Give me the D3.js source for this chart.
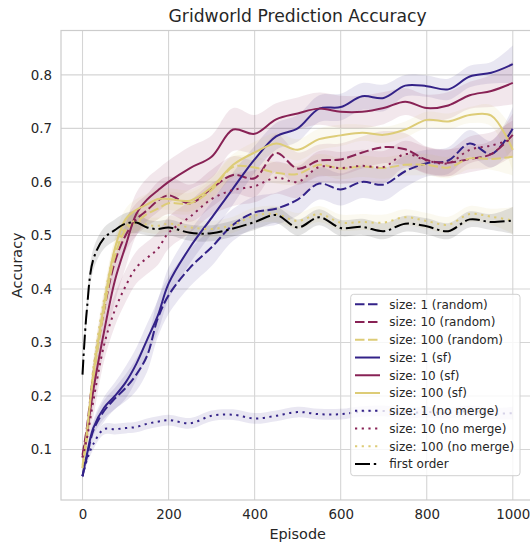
<!DOCTYPE html>
<html>
<head>
<meta charset="utf-8">
<script src="https://cdn.jsdelivr.net/npm/d3@7"></script>
<style>
  body { margin: 0; background: #fff; }
  text { font-family: "DejaVu Sans", sans-serif; fill: #262626; }
</style>
</head>
<body>
<div class="chart"></div>
<script>
// Gridworld prediction accuracy
var episodes = [0, 10, 25, 50, 75, 100, 125, 150, 175, 200, 250, 300, 350, 400, 450, 500, 550, 600, 650, 700, 750, 800, 850, 900, 950, 1000];

var size1Random   = [0.05, 0.085, 0.135, 0.172, 0.195, 0.215, 0.24, 0.275, 0.345, 0.388, 0.44, 0.478, 0.52, 0.543, 0.55, 0.567, 0.597, 0.586, 0.60, 0.595, 0.62, 0.635, 0.64, 0.672, 0.652, 0.70];
var size10Random  = [0.09, 0.14, 0.24, 0.36, 0.45, 0.50, 0.53, 0.547, 0.565, 0.575, 0.56, 0.588, 0.613, 0.607, 0.654, 0.625, 0.64, 0.642, 0.655, 0.665, 0.661, 0.641, 0.636, 0.643, 0.652, 0.688];
var size100Random = [0.065, 0.12, 0.23, 0.36, 0.46, 0.51, 0.525, 0.54, 0.55, 0.56, 0.56, 0.585, 0.628, 0.627, 0.617, 0.615, 0.632, 0.625, 0.629, 0.626, 0.632, 0.632, 0.627, 0.644, 0.643, 0.647];
var size1Sf       = [0.05, 0.09, 0.14, 0.178, 0.20, 0.225, 0.26, 0.305, 0.35, 0.41, 0.478, 0.533, 0.588, 0.642, 0.685, 0.70, 0.737, 0.74, 0.76, 0.757, 0.78, 0.779, 0.773, 0.797, 0.804, 0.82];
var size10Sf      = [0.085, 0.13, 0.21, 0.32, 0.415, 0.48, 0.54, 0.567, 0.584, 0.60, 0.626, 0.647, 0.698, 0.69, 0.717, 0.728, 0.737, 0.731, 0.731, 0.738, 0.75, 0.738, 0.743, 0.762, 0.77, 0.785];
var size100Sf     = [0.07, 0.13, 0.24, 0.37, 0.475, 0.53, 0.548, 0.558, 0.568, 0.568, 0.565, 0.59, 0.632, 0.655, 0.672, 0.66, 0.68, 0.687, 0.692, 0.688, 0.698, 0.716, 0.713, 0.725, 0.724, 0.66];
var size1NoMerge  = [0.05, 0.08, 0.11, 0.138, 0.138, 0.14, 0.142, 0.148, 0.152, 0.155, 0.149, 0.163, 0.165, 0.158, 0.163, 0.17, 0.166, 0.166, 0.171, 0.172, 0.168, 0.17, 0.168, 0.172, 0.167, 0.168];
var size10NoMerge = [0.085, 0.12, 0.19, 0.295, 0.36, 0.405, 0.44, 0.458, 0.475, 0.505, 0.535, 0.568, 0.585, 0.592, 0.608, 0.60, 0.628, 0.626, 0.63, 0.628, 0.652, 0.64, 0.635, 0.66, 0.668, 0.68];
var size100NoMerge = [0.065, 0.13, 0.25, 0.38, 0.47, 0.515, 0.528, 0.52, 0.518, 0.522, 0.515, 0.512, 0.52, 0.537, 0.54, 0.527, 0.54, 0.524, 0.525, 0.524, 0.534, 0.527, 0.52, 0.54, 0.535, 0.528];
var firstOrder    = [0.24, 0.36, 0.455, 0.495, 0.51, 0.522, 0.524, 0.515, 0.512, 0.515, 0.505, 0.504, 0.513, 0.525, 0.538, 0.515, 0.534, 0.514, 0.516, 0.508, 0.522, 0.517, 0.508, 0.53, 0.525, 0.528];

// confidence band half widths
var ci1Random   = [0.005, 0.01, 0.015, 0.02, 0.02, 0.025, 0.03, 0.03, 0.035, 0.035, 0.035, 0.035, 0.03, 0.03, 0.03, 0.03, 0.03, 0.03, 0.03, 0.03, 0.03, 0.025, 0.025, 0.025, 0.025, 0.04];
var ci10Random  = [0.01, 0.015, 0.025, 0.03, 0.03, 0.03, 0.03, 0.03, 0.035, 0.035, 0.035, 0.035, 0.035, 0.035, 0.035, 0.03, 0.03, 0.03, 0.03, 0.03, 0.03, 0.025, 0.025, 0.025, 0.025, 0.04];
var ci100Random = [0.01, 0.015, 0.02, 0.02, 0.02, 0.02, 0.02, 0.02, 0.02, 0.02, 0.02, 0.02, 0.02, 0.02, 0.02, 0.02, 0.02, 0.02, 0.02, 0.02, 0.02, 0.02, 0.02, 0.02, 0.02, 0.035];
var ci1Sf       = [0.005, 0.01, 0.015, 0.02, 0.025, 0.03, 0.03, 0.03, 0.03, 0.03, 0.03, 0.03, 0.03, 0.025, 0.025, 0.025, 0.025, 0.025, 0.025, 0.025, 0.02, 0.02, 0.02, 0.02, 0.02, 0.035];
var ci10Sf      = [0.01, 0.02, 0.03, 0.035, 0.04, 0.04, 0.04, 0.04, 0.04, 0.04, 0.04, 0.04, 0.04, 0.035, 0.03, 0.03, 0.03, 0.03, 0.03, 0.03, 0.025, 0.025, 0.025, 0.025, 0.03, 0.04];
var ci100Sf     = [0.01, 0.015, 0.02, 0.02, 0.02, 0.02, 0.02, 0.02, 0.02, 0.02, 0.02, 0.02, 0.02, 0.02, 0.02, 0.02, 0.02, 0.02, 0.015, 0.015, 0.015, 0.015, 0.015, 0.015, 0.02, 0.04];
var ci1NoMerge  = [0.005, 0.008, 0.01, 0.01, 0.01, 0.01, 0.01, 0.01, 0.01, 0.01, 0.01, 0.01, 0.01, 0.01, 0.01, 0.01, 0.01, 0.01, 0.01, 0.01, 0.01, 0.01, 0.01, 0.01, 0.01, 0.012];
var ci10NoMerge = [0.01, 0.02, 0.03, 0.03, 0.03, 0.03, 0.03, 0.03, 0.03, 0.03, 0.03, 0.03, 0.03, 0.03, 0.03, 0.03, 0.03, 0.03, 0.03, 0.03, 0.025, 0.025, 0.025, 0.025, 0.025, 0.035];
var ci100NoMerge = [0.01, 0.015, 0.02, 0.02, 0.02, 0.02, 0.02, 0.015, 0.015, 0.015, 0.015, 0.015, 0.015, 0.015, 0.015, 0.015, 0.015, 0.015, 0.015, 0.015, 0.015, 0.015, 0.015, 0.015, 0.015, 0.025];
var ciFirstOrder = [0.01, 0.02, 0.02, 0.02, 0.02, 0.02, 0.02, 0.015, 0.015, 0.015, 0.015, 0.015, 0.015, 0.015, 0.015, 0.015, 0.015, 0.015, 0.015, 0.015, 0.015, 0.015, 0.015, 0.015, 0.015, 0.025];

var xTicks = [0, 200, 400, 600, 800, 1000];
var yTicks = [0.1, 0.2, 0.3, 0.4, 0.5, 0.6, 0.7, 0.8];

var indigo = "#332288", wine = "#882255", sand = "#DDCC77";
var dashed = "9.5,3.5", dotted = "2.2,4.5", dashdot = "15,3.8,2.4,3.8";

var series = [
  { name: "size: 1 (random)",     values: size1Random,    ci: ci1Random,    color: indigo,  dash: dashed },
  { name: "size: 10 (random)",    values: size10Random,   ci: ci10Random,   color: wine,    dash: dashed },
  { name: "size: 100 (random)",   values: size100Random,  ci: ci100Random,  color: sand,    dash: dashed },
  { name: "size: 1 (sf)",         values: size1Sf,        ci: ci1Sf,        color: indigo,  dash: null },
  { name: "size: 10 (sf)",        values: size10Sf,       ci: ci10Sf,       color: wine,    dash: null },
  { name: "size: 100 (sf)",       values: size100Sf,      ci: ci100Sf,      color: sand,    dash: null },
  { name: "size: 1 (no merge)",   values: size1NoMerge,   ci: ci1NoMerge,   color: indigo,  dash: dotted },
  { name: "size: 10 (no merge)",  values: size10NoMerge,  ci: ci10NoMerge,  color: wine,    dash: dotted },
  { name: "size: 100 (no merge)", values: size100NoMerge, ci: ci100NoMerge, color: sand,    dash: dotted },
  { name: "first order",          values: firstOrder,     ci: ciFirstOrder, color: "#000",  dash: dashdot }
];

var svgWidth = 530;
var svgHeight = 544;
var plot = { left: 61, top: 30.5, right: 534.3, bottom: 500 };

var svg = d3.select(".chart")
  .append("svg")
  .attr("width", svgWidth)
  .attr("height", svgHeight);

var xScale = d3.scaleLinear().domain([-50, 1050]).range([plot.left, plot.right]);
var yScale = d3.scaleLinear().domain([0.0056, 0.883]).range([plot.bottom, plot.top]);

svg.append("clipPath").attr("id", "plotClip")
  .append("rect")
  .attr("x", plot.left).attr("y", plot.top)
  .attr("width", plot.right - plot.left).attr("height", plot.bottom - plot.top);

// grid lines
var grid = svg.append("g").attr("stroke", "#d5d5d5").attr("stroke-width", 1.1);
grid.selectAll(".vgrid").data(xTicks).enter().append("line")
  .attr("x1", d => xScale(d)).attr("x2", d => xScale(d))
  .attr("y1", plot.top).attr("y2", plot.bottom);
grid.selectAll(".hgrid").data(yTicks).enter().append("line")
  .attr("x1", plot.left).attr("x2", plot.right)
  .attr("y1", d => yScale(d)).attr("y2", d => yScale(d));

// spines
svg.append("rect")
  .attr("x", plot.left).attr("y", plot.top)
  .attr("width", plot.right - plot.left).attr("height", plot.bottom - plot.top)
  .attr("fill", "none").attr("stroke", "#cccccc").attr("stroke-width", 1.2);

// axes (labels only, seaborn whitegrid has no tick marks)
var bottomAxis = d3.axisBottom(xScale).tickValues(xTicks).tickSize(0).tickPadding(9).tickFormat(d3.format("d"));
var leftAxis = d3.axisLeft(yScale).tickValues(yTicks).tickSize(0).tickPadding(9).tickFormat(d3.format(".1f"));

var xAxis = svg.append("g").attr("transform", `translate(0, ${plot.bottom})`).call(bottomAxis);
var yAxis = svg.append("g").attr("transform", `translate(${plot.left}, 0)`).call(leftAxis);
[xAxis, yAxis].forEach(function (ax) {
  ax.select(".domain").remove();
  ax.selectAll("text")
    .attr("font-family", "DejaVu Sans")
    .attr("font-size", "13.4px")
    .attr("fill", "#262626");
});

var chartGroup = svg.append("g").attr("clip-path", "url(#plotClip)");

var band = d3.area()
  .x(d => xScale(d.e))
  .y0(d => yScale(d.v - d.c))
  .y1(d => yScale(d.v + d.c))
  .curve(d3.curveCatmullRom);

var line = d3.line()
  .x(d => xScale(d.e))
  .y(d => yScale(d.v))
  .curve(d3.curveCatmullRom);

function points(s) {
  return episodes.map((e, i) => ({ e: e, v: s.values[i], c: s.ci[i] }));
}

// bands first, then lines on top
chartGroup.selectAll(".band").data(series).enter().append("path")
  .attr("d", d => band(points(d)))
  .attr("fill", d => d.color)
  .attr("fill-opacity", 0.11)
  .attr("stroke", "none");

chartGroup.selectAll(".line").data(series).enter().append("path")
  .attr("d", d => line(points(d)))
  .attr("fill", "none")
  .attr("stroke", d => d.color)
  .attr("stroke-width", 2)
  .attr("stroke-dasharray", d => d.dash);

// titles
svg.append("text")
  .attr("x", (plot.left + plot.right) / 2)
  .attr("y", 22)
  .attr("text-anchor", "middle")
  .attr("font-size", "17.2px")
  .text("Gridworld Prediction Accuracy");

svg.append("text")
  .attr("x", (plot.left + plot.right) / 2)
  .attr("y", 539)
  .attr("text-anchor", "middle")
  .attr("font-size", "14.4px")
  .text("Episode");

svg.append("text")
  .attr("transform", `translate(22, ${(plot.top + plot.bottom) / 2}) rotate(-90)`)
  .attr("text-anchor", "middle")
  .attr("font-size", "14.4px")
  .text("Accuracy");

// legend
var legend = svg.append("g");
legend.append("rect")
  .attr("x", 350.7).attr("y", 294.3)
  .attr("width", 169.3).attr("height", 181.4)
  .attr("rx", 3)
  .attr("fill", "#fff").attr("fill-opacity", 0.8)
  .attr("stroke", "#d0d0d0").attr("stroke-width", 1);

var rows = legend.selectAll(".row").data(series).enter().append("g")
  .attr("transform", (d, i) => `translate(0, ${304.3 + i * 17.74})`);

rows.append("line")
  .attr("x1", 355).attr("x2", 380)
  .attr("y1", 0).attr("y2", 0)
  .attr("stroke", d => d.color)
  .attr("stroke-width", 2)
  .attr("stroke-dasharray", d => d.dash);

rows.append("text")
  .attr("x", 389.3)
  .attr("y", 0)
  .attr("dy", "0.36em")
  .attr("font-size", "12px")
  .text(d => d.name);
</script>
</body>
</html>
